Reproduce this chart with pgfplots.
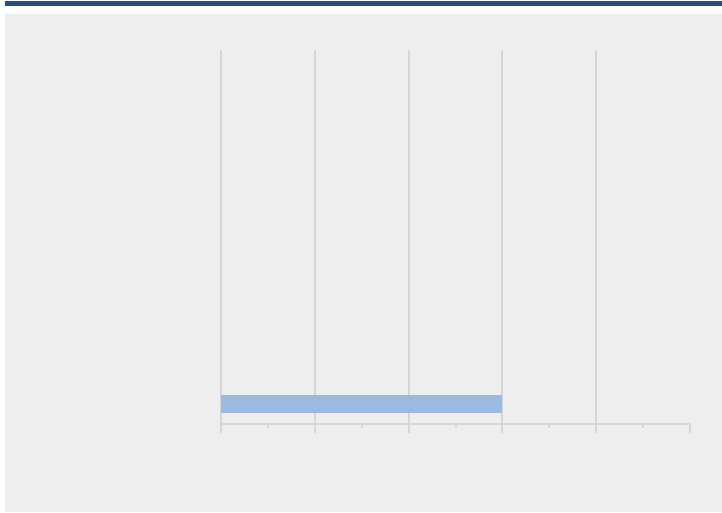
\documentclass[border=0pt]{standalone}
\usepackage{pgfplots}
\pgfplotsset{compat=1.18}
\definecolor{bgray}{HTML}{EEEEEE}
\definecolor{band}{HTML}{284F78}
\definecolor{gridc}{HTML}{D6D6D6}
\definecolor{barc}{HTML}{9CBAE0}
\begin{document}
\begin{tikzpicture}[x=1pt,y=1pt]
\useasboundingbox (0,0) rectangle (722,512);
\fill[white] (0,0) rectangle (722,512);
\fill[bgray] (5,0) rectangle (722,497.5);
\fill[band] (5,506) rectangle (722,511);
\begin{axis}[
  at={(221pt,88pt)}, anchor=origin,
  scale only axis, width=469pt, height=374pt,
  xmin=0, xmax=5, ymin=0, ymax=374,
  axis x line*=bottom, axis y line*=left,
  axis line style={gridc, line width=2pt, -},
  xtick={0,1,2,3,4}, minor xtick={0.5,1.5,2.5,3.5,4.5},
  extra x ticks={5}, extra x tick style={grid=none},
  xticklabels={}, extra x tick labels={},
  ytick=\empty,
  tick align=outside,
  major tick length=9pt, minor tick length=4pt,
  every tick/.style={gridc, line width=2pt},
  xmajorgrids,
  major grid style={gridc, line width=2pt},
]
\addplot[xbar, bar width=18, fill=barc, draw=none] coordinates {(3,20)};
\end{axis}
\end{tikzpicture}
\end{document}
